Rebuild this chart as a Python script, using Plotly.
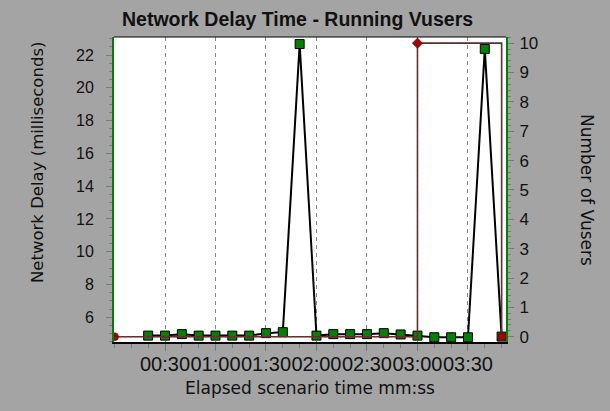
import plotly.graph_objects as go

# Network delay samples (seconds elapsed -> milliseconds)
delay_time_s = [20, 30, 40, 50, 60, 70, 80, 90, 100, 110, 120,
                130, 140, 150, 160, 170, 180, 190, 200, 210, 220, 230]
delay_ms = [4.88, 4.88, 4.97, 4.88, 4.88, 4.88, 4.88, 5.03, 5.09, 22.67, 4.88,
            4.97, 4.97, 4.97, 5.03, 4.95, 4.88, 4.78, 4.78, 4.78, 22.37, 4.82]

# Running Vusers (step changes)
vusers_time_s = [0, 180, 230]
vusers_count = [0, 10, 0]
vusers_symbols = ["circle", "diamond", "circle"]

# X-axis ticks (seconds -> mm:ss)
tick_seconds = [30, 60, 90, 120, 150, 180, 210]
tick_labels = ["00:30", "01:00", "01:30", "02:00", "02:30", "03:00", "03:30"]

W, H = 610, 411
L, R, T, B = 114, 104, 37, 69
PW, PH = W - L - R, H - T - B


def fx(px):
    return (px - L) / PW


def fy(py):
    return (H - B - py) / PH


BG = "#a4a4a4"
GREEN = "#008000"
GRID = "#8a8a8a"
TICKC = "#7a7a7a"

fig = go.Figure()

# Vusers: dark line with red dots over it
fig.add_trace(go.Scatter(
    x=vusers_time_s, y=vusers_count, yaxis="y2", mode="lines",
    line=dict(color="#3c3c3c", width=1.6, shape="hv"),
    hoverinfo="skip", showlegend=False))
fig.add_trace(go.Scatter(
    x=vusers_time_s, y=vusers_count, yaxis="y2", mode="lines",
    line=dict(color="#d01010", width=1, shape="hv", dash="2px,3px"),
    hoverinfo="skip", showlegend=False))

# Network delay line + squares
fig.add_trace(go.Scatter(
    x=delay_time_s, y=delay_ms, mode="lines+markers",
    line=dict(color="black", width=2),
    marker=dict(symbol="square", size=9, color=GREEN,
                line=dict(color="black", width=1)),
    name="Network Delay", showlegend=False))

# Vusers markers
fig.add_trace(go.Scatter(
    x=vusers_time_s, y=vusers_count, yaxis="y2", mode="markers",
    marker=dict(symbol=vusers_symbols, size=8, color="#a00000",
                line=dict(color="#600000", width=0.5)),
    name="Running Vusers", showlegend=False))

fig.update_layout(
    width=W, height=H,
    margin=dict(l=L, r=R, t=T, b=B, pad=0),
    paper_bgcolor=BG, plot_bgcolor="white",
    xaxis=dict(
        range=[-0.3, 232.6], showgrid=True, gridcolor=GRID, gridwidth=1,
        griddash="4px,4px", zeroline=False,
        tickvals=tick_seconds, ticktext=tick_labels, tickangle=0,
        ticks="outside", ticklen=7, tickcolor=TICKC, tickwidth=1,
        minor=dict(dtick=10, tick0=0, ticks="outside", ticklen=4,
                   tickcolor=TICKC, showgrid=False),
        tickfont=dict(family="Liberation Sans, Arial", size=20, color="#111111"),
        ticklabelstandoff=-4,
        showline=True, linecolor="black", linewidth=2, mirror=False,
    ),
    yaxis=dict(
        range=[4.49, 23.10], showgrid=False, zeroline=False,
        dtick=2, tick0=0, ticks="outside", ticklen=6, tickcolor=TICKC,
        minor=dict(dtick=0.5, ticks="outside", ticklen=3, tickcolor=TICKC),
        tickfont=dict(family="Liberation Sans, Arial", size=16, color="#111111"),
        ticklabelstandoff=9,
        showline=True, linecolor=GREEN, linewidth=2,
    ),
    yaxis2=dict(
        range=[-0.18, 10.21], overlaying="y", side="right",
        showgrid=False, zeroline=False,
        dtick=1, tick0=0, ticks="outside", ticklen=6, tickcolor=TICKC,
        minor=dict(dtick=0.2, ticks="outside", ticklen=3, tickcolor=TICKC),
        tickfont=dict(family="Liberation Sans, Arial", size=17, color="#111111"),
        ticklabelstandoff=2,
        showline=True, linecolor=GREEN, linewidth=2,
    ),
    shapes=[dict(type="line", xref="paper", yref="paper", x0=0, x1=1, y0=1, y1=1,
                 line=dict(color="black", width=1))],
    annotations=[
        dict(text="<b>Network Delay Time - Running Vusers</b>", xref="paper", yref="paper",
             x=fx(297), y=fy(19), showarrow=False, xanchor="center", yanchor="middle",
             font=dict(family="Liberation Sans, Arial", size=19.5, color="#111111")),
        dict(text="Network Delay (milliseconds)", xref="paper", yref="paper",
             x=fx(37), y=fy(163), showarrow=False, textangle=-90,
             xanchor="center", yanchor="middle",
             font=dict(family="DejaVu Sans", size=16.5, color="#111111")),
        dict(text="Number of Vusers", xref="paper", yref="paper",
             x=fx(587), y=fy(190), showarrow=False, textangle=90,
             xanchor="center", yanchor="middle",
             font=dict(family="DejaVu Sans", size=17, color="#111111")),
        dict(text="Elapsed scenario time mm:ss", xref="paper", yref="paper",
             x=fx(310), y=fy(388), showarrow=False,
             xanchor="center", yanchor="middle",
             font=dict(family="DejaVu Sans", size=17, color="#111111")),
    ],
)

fig.write_html("out.html")
